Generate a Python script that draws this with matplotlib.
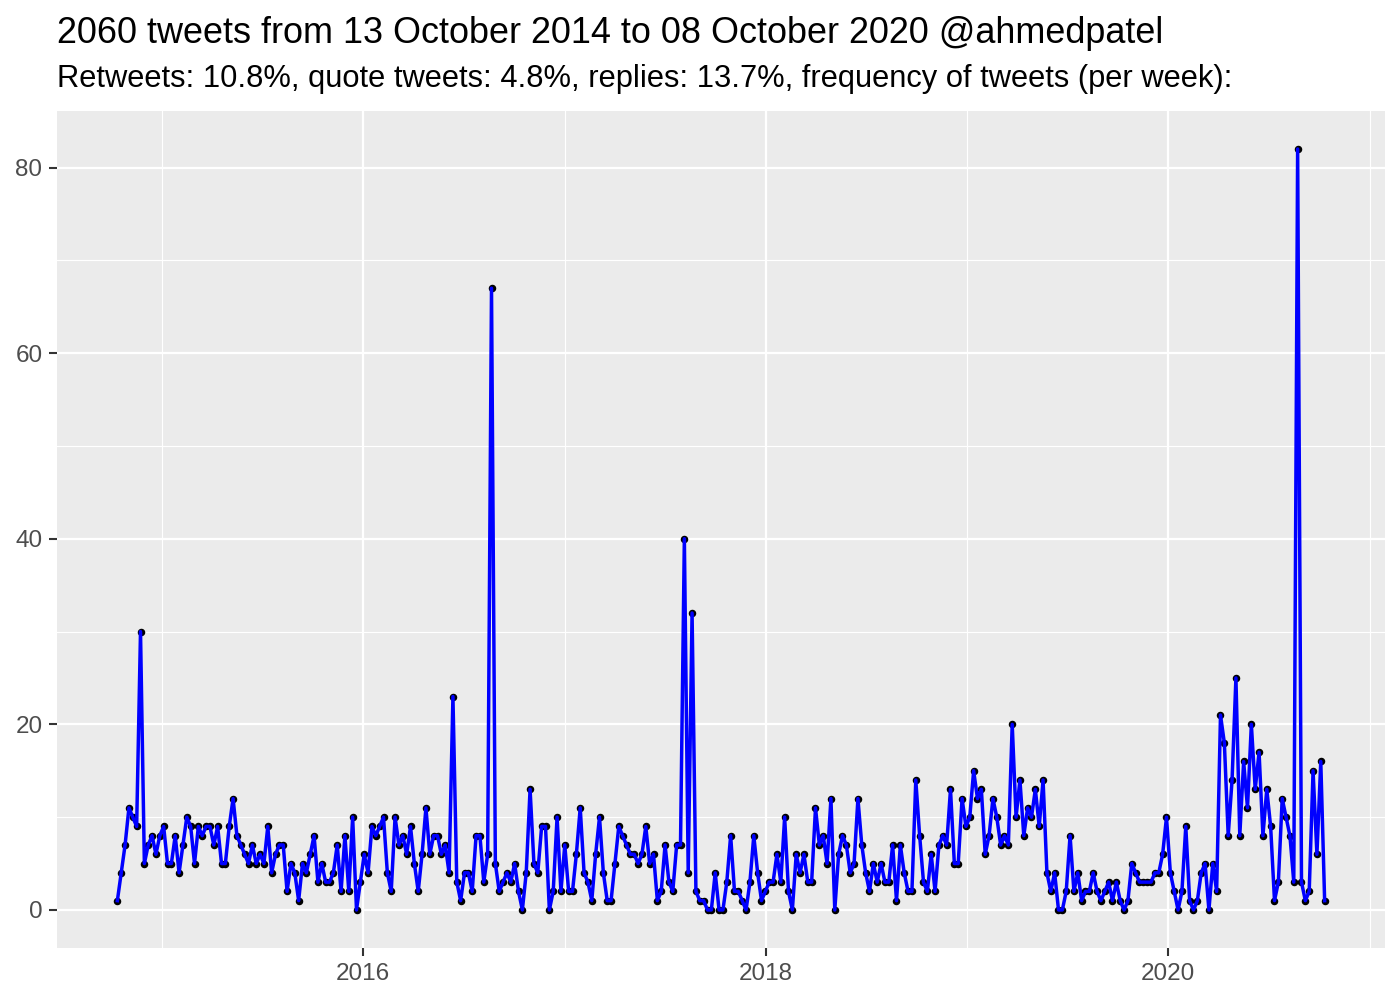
#import
import matplotlib
matplotlib.use("Agg")
import matplotlib.pyplot as plt
import matplotlib.dates as mdates
from matplotlib.ticker import MultipleLocator
import pandas as pd

#data
start_week = "2014-10-12"
tweets_per_week = [
    1, 4, 7, 11, 10, 9, 30, 5, 7, 8, 6, 8, 9, 5, 5, 8, 4, 7, 10, 9, 5, 9, 8, 9, 9, 7, 9, 5, 5, 9, 12, 8, 7, 6, 5, 7, 5, 6,
    5, 9, 4, 6, 7, 7, 2, 5, 4, 1, 5, 4, 6, 8, 3, 5, 3, 3, 4, 7, 2, 8, 2, 10, 0, 3, 6, 4, 9, 8, 9, 10, 4, 2, 10, 7, 8, 6, 9, 5,
    2, 6, 11, 6, 8, 8, 6, 7, 4, 23, 3, 1, 4, 4, 2, 8, 8, 3, 6, 67, 5, 2, 3, 4, 3, 5, 2, 0, 4, 13, 5, 4, 9, 9, 0, 2, 10, 2, 7, 2,
    2, 6, 11, 4, 3, 1, 6, 10, 4, 1, 1, 5, 9, 8, 7, 6, 6, 5, 6, 9, 5, 6, 1, 2, 7, 3, 2, 7, 7, 40, 4, 32, 2, 1, 1, 0, 0, 4, 0, 0, 3,
    8, 2, 2, 1, 0, 3, 8, 4, 1, 2, 3, 3, 6, 3, 10, 2, 0, 6, 4, 6, 3, 3, 11, 7, 8, 5, 12, 0, 6, 8, 7, 4, 5, 12, 7, 4, 2, 5, 3, 5,
    3, 3, 7, 1, 7, 4, 2, 2, 14, 8, 3, 2, 6, 2, 7, 8, 7, 13, 5, 5, 12, 9, 10, 15, 12, 13, 6, 8, 12, 10, 7, 8, 7, 20, 10, 14, 8, 11, 10, 13,
    9, 14, 4, 2, 4, 0, 0, 2, 8, 2, 4, 1, 2, 2, 4, 2, 1, 2, 3, 1, 3, 1, 0, 1, 5, 4, 3, 3, 3, 3, 4, 4, 6, 10, 4, 2, 0, 2, 9, 1,
    0, 1, 4, 5, 0, 5, 2, 21, 18, 8, 14, 25, 8, 16, 11, 20, 13, 17, 8, 13, 9, 1, 3, 12, 10, 8, 3, 82, 3, 1, 2, 15, 6, 16, 1,
]
weeks = pd.date_range(start_week, periods=len(tweets_per_week), freq="7D")

title = "2060 tweets from 13 October 2014 to 08 October 2020 @ahmedpatel"
subtitle = "Retweets: 10.8%, quote tweets: 4.8%, replies: 13.7%, frequency of tweets (per week):"

plt.rcParams["font.family"] = ["Liberation Sans", "DejaVu Sans"]

#plotting
fig = plt.figure(figsize=(14, 10), dpi=100)
ax = fig.add_axes([57 / 1400, 52 / 1000, 1328 / 1400, 837 / 1000])
ax.set_facecolor("#EBEBEB")

ax.plot(weeks, tweets_per_week, "o", color="black", markersize=4.4, zorder=3)
ax.plot(weeks, tweets_per_week, color="blue", linewidth=2.5, zorder=4)

#limits like ggplot (5% expansion)
ymax = max(tweets_per_week)
ax.set_ylim(-0.05 * ymax, ymax * 1.05)
span = weeks[-1] - weeks[0]
ax.set_xlim(weeks[0] - span * 0.05, weeks[-1] + span * 0.05)

ax.yaxis.set_major_locator(MultipleLocator(20))
ax.yaxis.set_minor_locator(MultipleLocator(10))
ax.xaxis.set_major_locator(mdates.YearLocator(2))
ax.xaxis.set_minor_locator(mdates.YearLocator(1))
ax.xaxis.set_major_formatter(mdates.DateFormatter("%Y"))

ax.grid(which="major", color="white", linewidth=1.6)
ax.grid(which="minor", color="white", linewidth=0.8)
ax.set_axisbelow(True)
for s in ax.spines.values():
    s.set_visible(False)

ax.tick_params(which="major", length=5.5, width=1.5, color="#333333",
               labelsize=17.5, labelcolor="#4D4D4D", pad=5)
ax.tick_params(which="minor", length=0)

#title and subtitle
fig.text(57 / 1400, 1 - 42.7 / 1000, title, fontsize=25.9, ha="left", va="baseline")
fig.text(57 / 1400, 1 - 87.3 / 1000, subtitle, fontsize=22.2, ha="left", va="baseline")

fig.savefig("out.png", dpi=100)
